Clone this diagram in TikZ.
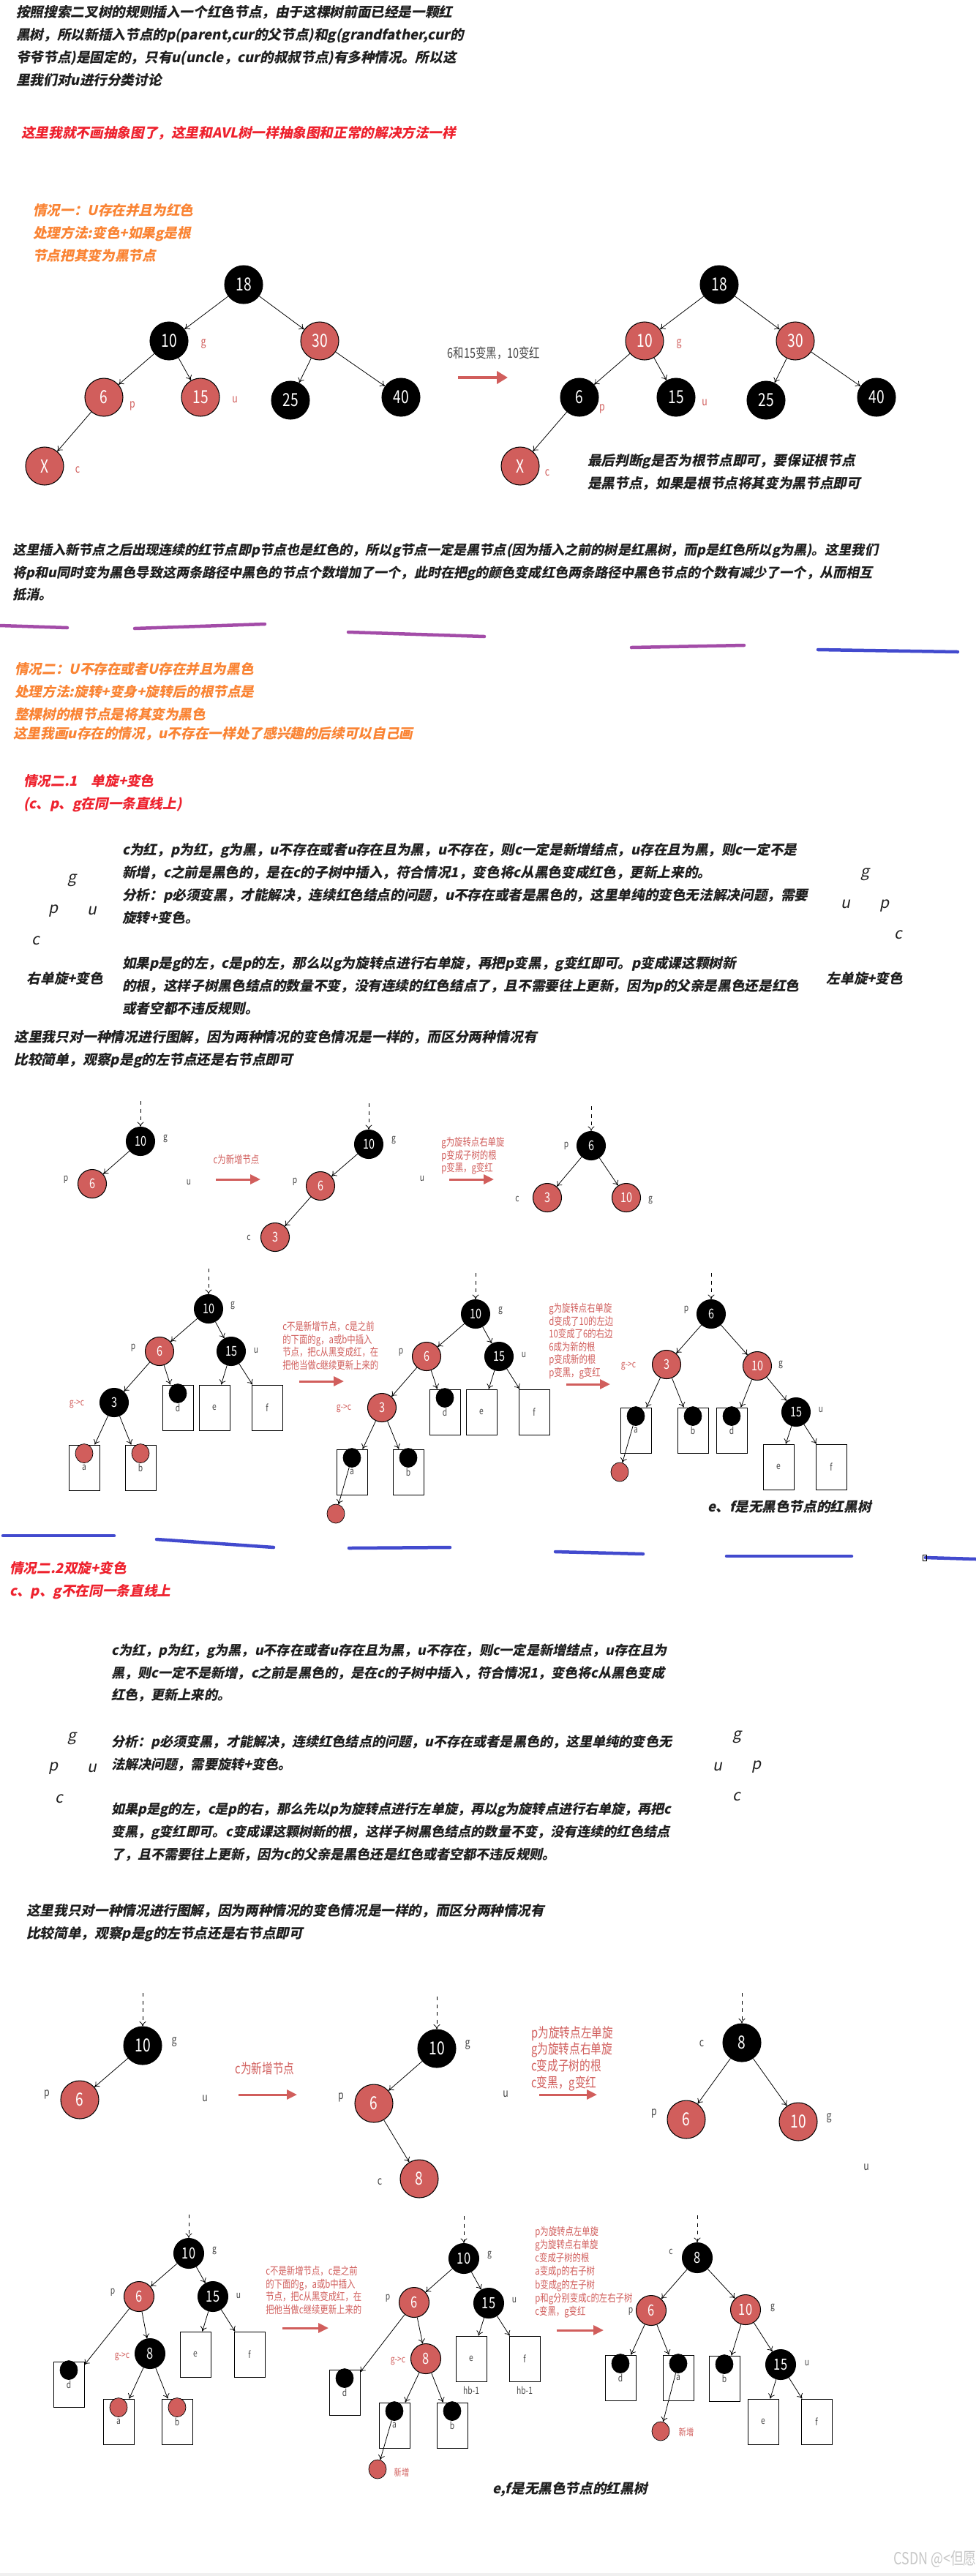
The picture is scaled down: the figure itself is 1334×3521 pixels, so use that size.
\documentclass[tikz,border=0pt]{standalone}
\usepackage{fontspec}
\usetikzlibrary{arrows.meta,shapes.geometric}
\newfontfamily\heiti[FakeSlant=0.2]{Noto Sans CJK SC}
\newfontfamily\narrow[FakeStretch=0.78]{Noto Sans CJK SC}
\definecolor{nodered}{RGB}{209,94,92}
\definecolor{headred}{RGB}{238,34,46}
\definecolor{tangerine}{RGB}{250,132,52}
\definecolor{plum}{RGB}{163,76,168}
\definecolor{marker}{RGB}{66,74,206}
\definecolor{ink}{RGB}{30,30,30}
\definecolor{slate}{RGB}{70,70,70}

\begin{document}
\begin{tikzpicture}[x=0.2mm,y=-0.2mm,
  para/.style={anchor=north west,align=left,inner sep=0pt,text=ink,
    font=\heiti\bfseries\fontsize{#1}{17.6}\selectfont},
  para/.default=10.6,
  knot/.style={circle,draw,line width=0.6pt,text=white,inner sep=0pt},
  link/.style={-{To[length=1.3mm,width=1.8mm]},line width=0.45pt},
  feed/.style={link,dashed},
  push/.style={-{Triangle[length=2.8mm,width=2.6mm]},line width=0.6mm,nodered},
  tagL/.style={font=\narrow\fontsize{9}{9}\selectfont,inner sep=0pt,text=slate},
  tagS/.style={font=\narrow\fontsize{7.5}{7.5}\selectfont,inner sep=0pt,text=slate},
  note/.style={anchor=north west,align=left,inner sep=0pt,text=nodered,
    font=\narrow\fontsize{8.3}{10}\selectfont},
  leaf/.style={rectangle,draw,line width=0.5pt,minimum width=8.4mm,minimum height=12.4mm,
    inner sep=0pt,text=slate,font=\narrow\fontsize{7.5}{7.5}\selectfont},
  dot/.style={ellipse,draw,inner sep=0pt,minimum width=4.8mm,minimum height=5.2mm},
  letter/.style={font=\heiti\fontsize{12}{12}\selectfont,text=ink,inner sep=0pt},
  stroke/.style={line width=0.9mm,line cap=round}]
\fill[white] (0,0) rectangle (1334,3521);
\useasboundingbox (0,0) rectangle (1334,3521);

% ---------- case 1: uncle red
\node[para] (intro) at (22,7) {按照搜索二叉树的规则插入一个红色节点，由于这棵树前面已经是一颗红\\黑树，所以新插入节点的p(parent,cur的父节点)和g(grandfather,cur的\\爷爷节点)是固定的，只有u(uncle，cur的叔叔节点)有多种情况。所以这\\里我们对u进行分类讨论};
\node[para,text=headred,anchor=west] (skip) at (29,182) {这里我就不画抽象图了，这里和AVL树一样抽象图和正常的解决方法一样};
\node[para,text=tangerine] (case1) at (45,278) {情况一：U存在并且为红色\\处理方法:变色+如果g是根\\节点把其变为黑节点};

\begin{scope}[font=\narrow\fontsize{14}{14}\selectfont,every circle node/.style={minimum size=10.4mm}]
  \foreach \n/\x/\y/\l/\r in {18/333/389/black/black,10/231/466/black/nodered,
      30/437/466/nodered/nodered,6/142/543/nodered/black,15/274/543/nodered/black,
      25/397/547/black/black,40/548/543/black/black,X/61/637/nodered/nodered}{
    \node[knot,fill=\l] (L\n) at (\x,\y) {\n};
    \node[knot,fill=\r] (R\n) at (\x+650,\y) {\n};
  }
  \foreach \a/\b in {18/10,18/30,10/6,10/15,30/25,30/40,6/X}{
    \draw[link] (L\a) -- (L\b);
    \draw[link] (R\a) -- (R\b);
  }
  \foreach \t/\x/\y in {g/278/470,p/181/555,u/321/546,c/106/642}
    \node[tagL,text=nodered] (Ltag\t) at (\x,\y) {\t};
  \foreach \t/\x/\y in {g/928/470,p/823/559,u/963/550,c/748/646}
    \node[tagL,text=nodered] (Rtag\t) at (\x,\y) {\t};
\end{scope}
\node[font=\narrow\fontsize{10.5}{10.5}\selectfont,text=slate] (swap) at (675,483) {6和15变黑，10变红};
\coordinate (s1a) at (626,516);
\coordinate (s1b) at (694,516);
\draw[push,line width=0.8mm,-{Triangle[length=3mm,width=3.4mm]}] (s1a) -- (s1b);
\node[para] (rootnote) at (803,620) {最后判断g是否为根节点即可，要保证根节点\\是黑节点，如果是根节点将其变为黑节点即可};

\node[para=10.3] (why) at (17,742) {这里插入新节点之后出现连续的红节点即p节点也是红色的，所以g节点一定是黑节点(因为插入之前的树是红黑树，而p是红色所以g为黑)。这里我们\\将p和u同时变为黑色导致这两条路径中黑色的节点个数增加了一个，此时在把g的颜色变成红色两条路径中黑色节点的个数有减少了一个，从而相互\\抵消。};

\draw[stroke,plum] (0,855) -- (92,858);
\draw[stroke,plum] (184,859) -- (362,853);
\draw[stroke,plum] (476,864) -- (662,870);
\draw[stroke,plum] (863,885) -- (1017,882);
\draw[stroke,marker] (1118,888) -- (1309,891);

% ---------- case 2: uncle missing or black
\node[para,text=tangerine] (case2) at (20,905) {情况二：U不存在或者U存在并且为黑色\\处理方法:旋转+变身+旋转后的根节点是\\整棵树的根节点是将其变为黑色};
\node[para,text=tangerine,anchor=west] (case2b) at (18,1003) {这里我画u存在的情况，u不存在一样处了感兴趣的后续可以自己画};

\node[para,text=headred] (c21) at (32,1058) {情况二.1\quad 单旋+变色\\(c、p、g在同一条直线上)};
\node[para=10.6] (c21a) at (167,1152) {c为红，p为红，g为黑，u不存在或者u存在且为黑，u不存在，则c一定是新增结点，u存在且为黑，则c一定不是\\新增，c之前是黑色的，是在c的子树中插入，符合情况1，变色将c从黑色变成红色，更新上来的。\\分析：p必须变黑，才能解决，连续红色结点的问题，u不存在或者是黑色的，这里单纯的变色无法解决问题，需要\\旋转+变色。};
\node[para=10.6] (c21b) at (167,1307) {如果p是g的左，c是p的左，那么以g为旋转点进行右单旋，再把p变黑，g变红即可。p变成课这颗树新\\的根，这样子树黑色结点的数量不变，没有连续的红色结点了，且不需要往上更新，因为p的父亲是黑色还是红色\\或者空都不违反规则。};
\foreach \t/\x/\y in {g/98/1203,p/73/1245,u/126/1245,c/49/1286}
  \node[letter] (k21l\t) at (\x,\y) {\t};
\foreach \t/\x/\y in {g/1182/1195,u/1156/1236,p/1209/1238,c/1228/1278}
  \node[letter] (k21r\t) at (\x,\y) {\t};
\node[para,anchor=center] (rrot) at (89,1337) {右单旋+变色};
\node[para,anchor=center] (lrot) at (1182,1337) {左单旋+变色};
\node[para=10.7] (only1) at (19,1408) {这里我只对一种情况进行图解，因为两种情况的变色情况是一样的，而区分两种情况有\\比较简单，观察p是g的左节点还是右节点即可};

% ---------- single rotation, small trees
\begin{scope}[font=\narrow\fontsize{10.5}{10.5}\selectfont,every circle node/.style={minimum size=7.8mm}]
  \coordinate (A1in) at (192,1505);
  \node[knot,fill=black] (A1g) at (192,1560) {10};
  \node[knot,fill=nodered] (A1p) at (126,1618) {6};
  \draw[feed] (A1in) -- (A1g);
  \draw[link] (A1g) -- (A1p);
  \node[tagS] (A1lg) at (226,1556) {g};
  \node[tagS] (A1lp) at (90,1612) {p};
  \node[tagS] (A1lu) at (258,1616) {u};
  \coordinate (A1a) at (295,1612);
  \coordinate (A1b) at (356,1612);
  \draw[push] (A1a) -- (A1b);
  \node[note,anchor=center] (A1t) at (323,1585) {c为新增节点};

  \coordinate (A2in) at (504,1508);
  \node[knot,fill=black] (A2g) at (504,1564) {10};
  \node[knot,fill=nodered] (A2p) at (438,1621) {6};
  \node[knot,fill=nodered] (A2c) at (376,1691) {3};
  \draw[feed] (A2in) -- (A2g);
  \draw[link] (A2g) -- (A2p);
  \draw[link] (A2p) -- (A2c);
  \node[tagS] (A2lg) at (538,1558) {g};
  \node[tagS] (A2lp) at (403,1615) {p};
  \node[tagS] (A2lc) at (340,1692) {c};
  \node[tagS] (A2lu) at (577,1611) {u};
  \coordinate (A2a) at (614,1612);
  \coordinate (A2b) at (675,1612);
  \draw[push] (A2a) -- (A2b);
  \node[note] (A2t) at (603,1554) {g为旋转点右单旋\\p变成子树的根\\p变黑，g变红};

  \coordinate (A3in) at (808,1512);
  \node[knot,fill=black] (A3p) at (808,1566) {6};
  \node[knot,fill=nodered] (A3c) at (748,1637) {3};
  \node[knot,fill=nodered] (A3g) at (856,1637) {10};
  \draw[feed] (A3in) -- (A3p);
  \draw[link] (A3p) -- (A3c);
  \draw[link] (A3p) -- (A3g);
  \node[tagS] (A3lp) at (774,1566) {p};
  \node[tagS] (A3lc) at (707,1639) {c};
  \node[tagS] (A3lg) at (889,1640) {g};

  % general case
  \coordinate (B1in) at (285,1734);
  \node[knot,fill=black] (B1g) at (285,1789) {10};
  \node[knot,fill=nodered] (B1p) at (218,1847) {6};
  \node[knot,fill=black] (B1u) at (316,1847) {15};
  \node[knot,fill=black] (B1c) at (156,1917) {3};
  \foreach \n/\x/\y in {d/243/1924,e/293/1924,f/365/1924,a/115/2006,b/192/2006}
    \node[leaf] (B1\n) at (\x,\y) {\n};
  \node[dot,fill=black] (B1dotd) at ([yshift=-2.4mm]B1d.north) {};
  \foreach \n in {a,b} \node[dot,fill=nodered] (B1dot\n) at ([yshift=-2.4mm]B1\n.north) {};
  \draw[feed] (B1in) -- (B1g);
  \foreach \a/\b in {g/p,g/u,p/c,p/d,u/e,u/f,c/a,c/b} \draw[link] (B1\a) -- (B1\b);
  \node[tagS] (B1lg) at (318,1784) {g};
  \node[tagS] (B1lp) at (182,1842) {p};
  \node[tagS] (B1lu) at (350,1846) {u};
  \node[tagS,text=nodered] (B1lc) at (105,1919) {g->c};
  \coordinate (B1a) at (409,1888);
  \coordinate (B1b) at (470,1888);
  \draw[push] (B1a) -- (B1b);
  \node[note] (B1t) at (386,1806) {c不是新增节点，c是之前\\的下面的g，a或b中插入\\节点，把c从黑变成红，在\\把他当做c继续更新上来的};

  \coordinate (B2in) at (650,1740);
  \node[knot,fill=black] (B2g) at (650,1796) {10};
  \node[knot,fill=nodered] (B2p) at (583,1854) {6};
  \node[knot,fill=black] (B2u) at (682,1854) {15};
  \node[knot,fill=nodered] (B2c) at (522,1924) {3};
  \foreach \n/\x/\y in {d/608/1930,e/658/1930,f/730/1930,a/481/2012,b/558/2012}
    \node[leaf] (B2\n) at (\x,\y) {\n};
  \foreach \n in {d,a,b} \node[dot,fill=black] (B2dot\n) at ([yshift=-2.4mm]B2\n.north) {};
  \node[dot,fill=nodered] (B2new) at (459,2069) {};
  \draw[feed] (B2in) -- (B2g);
  \foreach \a/\b in {g/p,g/u,p/c,p/d,u/e,u/f,c/a,c/b} \draw[link] (B2\a) -- (B2\b);
  \draw[link] (B2dota) -- (B2new);
  \node[tagS] (B2lg) at (684,1791) {g};
  \node[tagS] (B2lp) at (548,1848) {p};
  \node[tagS] (B2lu) at (716,1852) {u};
  \node[tagS,text=nodered] (B2lc) at (470,1925) {g->c};
  \coordinate (B2a) at (774,1892);
  \coordinate (B2b) at (834,1892);
  \draw[push] (B2a) -- (B2b);
  \node[note] (B2t) at (750,1781) {g为旋转点右单旋\\d变成了10的左边\\10变成了6的右边\\6成为新的根\\p变成新的根\\p变黑，g变红};

  \coordinate (B3in) at (972,1740);
  \node[knot,fill=black] (B3p) at (972,1796) {6};
  \node[knot,fill=nodered] (B3c) at (911,1865) {3};
  \node[knot,fill=nodered] (B3g) at (1035,1867) {10};
  \node[knot,fill=black] (B3u) at (1088,1930) {15};
  \foreach \n/\x/\y in {a/869/1955,b/947/1955,d/1000/1955,e/1064/2005,f/1136/2005}
    \node[leaf] (B3\n) at (\x,\y) {\n};
  \foreach \n in {a,b,d} \node[dot,fill=black] (B3dot\n) at ([yshift=-2.4mm]B3\n.north) {};
  \node[dot,fill=nodered] (B3new) at (847,2012) {};
  \draw[feed] (B3in) -- (B3p);
  \foreach \a/\b in {p/c,p/g,c/a,c/b,g/d,g/u,u/e,u/f} \draw[link] (B3\a) -- (B3\b);
  \draw[link] (B3dota) -- (B3new);
  \node[tagS] (B3lp) at (938,1790) {p};
  \node[tagS,text=nodered] (B3lc) at (859,1867) {g->c};
  \node[tagS] (B3lg) at (1067,1865) {g};
  \node[tagS] (B3lu) at (1122,1927) {u};
\end{scope}
\node[para,anchor=center] (cap1) at (1079,2059) {e、f是无黑色节点的红黑树};

\draw[stroke,marker] (4,2099) -- (156,2099);
\draw[stroke,marker] (214,2104) -- (374,2115);
\draw[stroke,marker] (477,2116) -- (615,2115);
\draw[stroke,marker] (759,2121) -- (879,2124);
\draw[stroke,marker] (993,2127) -- (1164,2127);
\draw[stroke,marker] (1265,2129) -- (1334,2131);
\draw[line width=0.4pt] (1261,2125) rectangle (1266,2133);

% ---------- case 2.2: double rotation
\node[para,text=headred] (c22) at (13,2134) {情况二.2双旋+变色\\c、p、g不在同一条直线上};
\node[para=10.3] (c22a) at (152,2246) {c为红，p为红，g为黑，u不存在或者u存在且为黑，u不存在，则c一定是新增结点，u存在且为\\黑，则c一定不是新增，c之前是黑色的，是在c的子树中插入，符合情况1，变色将c从黑色变成\\红色，更新上来的。};
\node[para=10.3] (c22b) at (152,2371) {分析：p必须变黑，才能解决，连续红色结点的问题，u不存在或者是黑色的，这里单纯的变色无\\法解决问题，需要旋转+变色。};
\node[para=10.3] (c22c) at (152,2464) {如果p是g的左，c是p的右，那么先以p为旋转点进行左单旋，再以g为旋转点进行右单旋，再把c\\变黑，g变红即可。c变成课这颗树新的根，这样子树黑色结点的数量不变，没有连续的红色结点\\了，且不需要往上更新，因为c的父亲是黑色还是红色或者空都不违反规则。};
\foreach \t/\x/\y in {g/98/2376,p/73/2417,u/126/2417,c/81/2459}
  \node[letter] (k22l\t) at (\x,\y) {\t};
\foreach \t/\x/\y in {g/1007/2374,u/981/2415,p/1034/2415,c/1007/2456}
  \node[letter] (k22r\t) at (\x,\y) {\t};
\node[para=10.6] (only2) at (36,2602) {这里我只对一种情况进行图解，因为两种情况的变色情况是一样的，而区分两种情况有\\比较简单，观察p是g的左节点还是右节点即可};

\begin{scope}[font=\narrow\fontsize{14}{14}\selectfont,every circle node/.style={minimum size=10.4mm}]
  \coordinate (C1in) at (195,2724);
  \node[knot,fill=black] (C1g) at (195,2796) {10};
  \node[knot,fill=nodered] (C1p) at (109,2870) {6};
  \draw[feed] (C1in) -- (C1g);
  \draw[link] (C1g) -- (C1p);
  \node[tagL] (C1lg) at (238,2791) {g};
  \node[tagL] (C1lp) at (64,2863) {p};
  \node[tagL] (C1lu) at (280,2868) {u};
  \coordinate (C1a) at (326,2863);
  \coordinate (C1b) at (406,2863);
  \draw[push] (C1a) -- (C1b);
  \node[note,anchor=center,font=\narrow\fontsize{10.7}{13}\selectfont] (C1t) at (362,2827) {c为新增节点};

  \coordinate (C2in) at (597,2729);
  \node[knot,fill=black] (C2g) at (597,2800) {10};
  \node[knot,fill=nodered] (C2p) at (511,2875) {6};
  \node[knot,fill=nodered] (C2c) at (573,2978) {8};
  \draw[feed] (C2in) -- (C2g);
  \draw[link] (C2g) -- (C2p);
  \draw[link] (C2p) -- (C2c);
  \node[tagL] (C2lg) at (639,2795) {g};
  \node[tagL] (C2lp) at (466,2867) {p};
  \node[tagL] (C2lc) at (519,2982) {c};
  \node[tagL] (C2lu) at (691,2862) {u};
  \coordinate (C2a) at (737,2863);
  \coordinate (C2b) at (816,2863);
  \draw[push] (C2a) -- (C2b);
  \node[note,font=\narrow\fontsize{10.7}{12.9}\selectfont] (C2t) at (726,2769) {p为旋转点左单旋\\g为旋转点右单旋\\c变成子树的根\\c变黑，g变红};

  \coordinate (C3in) at (1014,2724);
  \node[knot,fill=black] (C3c) at (1014,2792) {8};
  \node[knot,fill=nodered] (C3p) at (938,2897) {6};
  \node[knot,fill=nodered] (C3g) at (1091,2900) {10};
  \draw[feed] (C3in) -- (C3c);
  \draw[link] (C3c) -- (C3p);
  \draw[link] (C3c) -- (C3g);
  \node[tagL] (C3lc) at (959,2793) {c};
  \node[tagL] (C3lp) at (894,2889) {p};
  \node[tagL] (C3lg) at (1133,2895) {g};
  \node[tagL] (C3lu) at (1184,2962) {u};
\end{scope}

\begin{scope}[font=\narrow\fontsize{12}{12}\selectfont,every circle node/.style={minimum size=8.2mm}]
  \coordinate (D1in) at (258,3027);
  \node[knot,fill=black] (D1g) at (258,3080) {10};
  \node[knot,fill=nodered] (D1p) at (190,3139) {6};
  \node[knot,fill=black] (D1u) at (291,3139) {15};
  \node[knot,fill=black] (D1c) at (205,3217) {8};
  \foreach \n/\x/\y in {d/94/3259,e/267/3218,f/341/3218,a/162/3310,b/242/3310}
    \node[leaf] (D1\n) at (\x,\y) {\n};
  \node[dot,fill=black] (D1dotd) at ([yshift=-2.4mm]D1d.north) {};
  \foreach \n in {a,b} \node[dot,fill=nodered] (D1dot\n) at ([yshift=-2.4mm]D1\n.north) {};
  \draw[feed] (D1in) -- (D1g);
  \foreach \a/\b in {g/p,g/u,p/d,p/c,u/e,u/f,c/a,c/b} \draw[link] (D1\a) -- (D1\b);
  \node[tagS] (D1lg) at (293,3076) {g};
  \node[tagS] (D1lp) at (154,3133) {p};
  \node[tagS] (D1lu) at (326,3138) {u};
  \node[tagS,text=nodered] (D1lc) at (167,3221) {g->c};
  \coordinate (D1a) at (386,3182);
  \coordinate (D1b) at (449,3182);
  \draw[push] (D1a) -- (D1b);
  \node[note] (D1t) at (363,3097) {c不是新增节点，c是之前\\的下面的g，a或b中插入\\节点，把c从黑变成红，在\\把他当做c继续更新上来的};

  \coordinate (D2in) at (634,3029);
  \node[knot,fill=black] (D2g) at (634,3087) {10};
  \node[knot,fill=nodered] (D2p) at (566,3147) {6};
  \node[knot,fill=black] (D2u) at (668,3148) {15};
  \node[knot,fill=nodered] (D2c) at (582,3224) {8};
  \foreach \n/\x/\y in {d/471/3270,e/644/3224,f/717/3224,a/539/3315,b/618/3315}
    \node[leaf] (D2\n) at (\x,\y) {\n};
  \foreach \n in {d,a,b} \node[dot,fill=black] (D2dot\n) at ([yshift=-2.4mm]D2\n.north) {};
  \node[dot,fill=nodered] (D2new) at (516,3375) {};
  \draw[feed] (D2in) -- (D2g);
  \foreach \a/\b in {g/p,g/u,p/d,p/c,u/e,u/f,c/a,c/b} \draw[link] (D2\a) -- (D2\b);
  \draw[link] (D2dota) -- (D2new);
  \node[tagS] (D2lg) at (669,3082) {g};
  \node[tagS] (D2lp) at (530,3141) {p};
  \node[tagS] (D2lu) at (703,3144) {u};
  \node[tagS,text=nodered] (D2lc) at (544,3227) {g->c};
  \node[tagS] (D2he) at (644,3267) {hb-1};
  \node[tagS] (D2hf) at (717,3267) {hb-1};
  \node[tagS,text=nodered] (D2ln) at (549,3379) {新增};
  \coordinate (D2a) at (761,3185);
  \coordinate (D2b) at (825,3185);
  \draw[push] (D2a) -- (D2b);
  \node[note,font=\narrow\fontsize{8.3}{10.3}\selectfont] (D2t) at (731,3043) {p为旋转点左单旋\\g为旋转点右单旋\\c变成子树的根\\a变成p的右子树\\b变成g的左子树\\p和g分别变成c的左右子树\\c变黑，g变红};

  \coordinate (D3in) at (953,3028);
  \node[knot,fill=black] (D3c) at (953,3086) {8};
  \node[knot,fill=nodered] (D3p) at (890,3158) {6};
  \node[knot,fill=nodered] (D3g) at (1019,3157) {10};
  \node[knot,fill=black] (D3u) at (1067,3232) {15};
  \foreach \n/\x/\y in {d/848/3250,a/927/3250,b/990/3251,e/1043/3310,f/1116/3310}
    \node[leaf] (D3\n) at (\x,\y) {\n};
  \foreach \n in {d,a,b} \node[dot,fill=black] (D3dot\n) at ([yshift=-2.4mm]D3\n.north) {};
  \node[dot,fill=nodered] (D3new) at (903,3323) {};
  \draw[feed] (D3in) -- (D3c);
  \foreach \a/\b in {c/p,c/g,p/d,p/a,g/b,g/u,u/e,u/f} \draw[link] (D3\a) -- (D3\b);
  \draw[link] (D3dota) -- (D3new);
  \node[tagS] (D3lc) at (917,3078) {c};
  \node[tagS] (D3lp) at (862,3159) {p};
  \node[tagS] (D3lg) at (1056,3154) {g};
  \node[tagS] (D3lu) at (1103,3230) {u};
  \node[tagS,text=nodered] (D3ln) at (938,3324) {新增};
\end{scope}
\node[para,anchor=center] (cap2) at (779,3403) {e,f是无黑色节点的红黑树};

\node[anchor=east,inner sep=0pt,text=black!22,font=\narrow\fontsize{13}{13}\selectfont] (mark) at (1340,3498) {CSDN @<但愿.};
\fill[black!6] (0,3517) rectangle (1334,3521);
\end{tikzpicture}
\end{document}
